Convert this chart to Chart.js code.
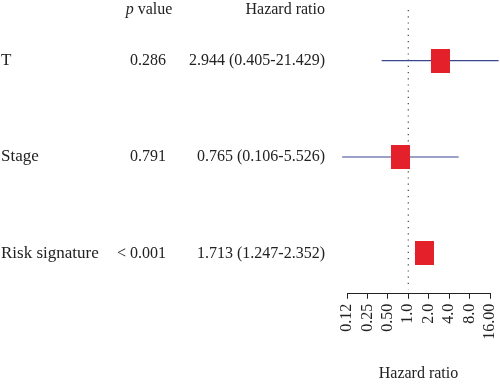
<!DOCTYPE html>
<html>
<head>
<meta charset="utf-8">
<script src="https://cdn.jsdelivr.net/npm/chart.js@4/dist/chart.umd.min.js"></script>
<style>
  body { margin: 0; background: #fff; }
  #wrap { width: 500px; height: 384px; }
</style>
</head>
<body>
<div id="wrap"><canvas id="forest" width="500" height="384"></canvas></div>
<script>
// Datos del forest plot
const rowLabels = ['T', 'Stage', 'Risk signature'];
const pValues = ['0.286', '0.791', '< 0.001'];
const hrTexts = ['2.944 (0.405-21.429)', '0.765 (0.106-5.526)', '1.713 (1.247-2.352)'];
const hr = [2.944, 0.765, 1.713];
const hrLow = [0.405, 0.106, 1.247];
const hrHigh = [21.429, 5.526, 2.352];
const tickValues = [0.125, 0.25, 0.5, 1, 2, 4, 8, 16];
const tickLabels = ['0.12', '0.25', '0.50', '1.0', '2.0', '4.0', '8.0', '16.00'];

const serif = '"Liberation Serif", "DejaVu Serif", serif';
const textColor = '#222';
const rowY = rowLabels.map((_, i) => i + 1);
const yMin = 0.476, yMax = 3.418;

// Caja roja como pointStyle (rectangulo no cuadrado)
const box = document.createElement('canvas');
box.width = 19;
box.height = 24;
const bctx = box.getContext('2d');
bctx.fillStyle = '#e4212b';
bctx.fillRect(0, 0, 19, 24);

const datasets = [];

// Linea punteada en HR = 1
datasets.push({
    type: 'line',
    data: [{ x: 1, y: yMin }, { x: 1, y: 3.37 }],
    borderColor: '#444',
    borderWidth: 1.2,
    borderDash: [1.2, 5],
    pointRadius: 0,
    order: 3
});

// Intervalos de confianza
rowLabels.forEach((_, i) => {
    datasets.push({
        type: 'line',
        data: [{ x: hrLow[i], y: rowY[i] }, { x: hrHigh[i], y: rowY[i] }],
        borderColor: '#3a4790',
        borderWidth: 1.2,
        pointRadius: 0,
        clip: false,
        order: 2
    });
});

// Cajas
datasets.push({
    type: 'scatter',
    data: hr.map((v, i) => ({ x: v, y: rowY[i] })),
    pointStyle: box,
    order: 1
});

// Tabla de texto a la izquierda
const tablePlugin = {
    id: 'tabla',
    afterDraw(chart) {
        const ctx = chart.ctx;
        const y = chart.scales.y;
        const top = chart.chartArea.top;
        ctx.save();
        ctx.fillStyle = textColor;
        ctx.textBaseline = 'middle';

        // Cabeceras
        ctx.font = 'italic 16px ' + serif;
        const pw = ctx.measureText('p').width;
        ctx.font = '16px ' + serif;
        const vw = ctx.measureText(' value').width;
        const startP = 149 - (pw + vw) / 2;
        ctx.textAlign = 'left';
        ctx.font = 'italic 16px ' + serif;
        ctx.fillText('p', startP, top);
        ctx.font = '16px ' + serif;
        ctx.fillText(' value', startP + pw, top);
        ctx.textAlign = 'right';
        ctx.fillText('Hazard ratio', 325, top);

        rowLabels.forEach((lab, i) => {
            const py = y.getPixelForValue(rowY[i]);
            ctx.textAlign = 'left';
            ctx.font = '17px ' + serif;
            ctx.fillText(lab, 1, py);
            ctx.font = '16px ' + serif;
            ctx.textAlign = 'right';
            ctx.fillText(pValues[i], 166, py);
            ctx.fillText(hrTexts[i], 325, py);
        });
        ctx.restore();
    }
};

new Chart(document.getElementById('forest'), {
    data: { datasets: datasets },
    options: {
        responsive: false,
        animation: false,
        layout: { padding: { left: 347, right: 10, top: 10, bottom: 1 } },
        plugins: {
            legend: { display: false },
            tooltip: { enabled: false }
        },
        scales: {
            x: {
                type: 'logarithmic',
                min: 0.125,
                max: 16,
                afterBuildTicks: (scale) => {
                    scale.ticks = tickValues.map(v => ({ value: v }));
                },
                afterFit: (scale) => {
                    scale.paddingLeft = 0;
                    scale.paddingRight = 0;
                },
                ticks: {
                    autoSkip: false,
                    minRotation: 90,
                    maxRotation: 90,
                    padding: 5,
                    color: textColor,
                    font: { family: serif, size: 16 },
                    callback: (val, i) => tickLabels[i]
                },
                grid: {
                    drawOnChartArea: false,
                    drawTicks: true,
                    tickLength: 5,
                    color: '#222'
                },
                border: { display: true, color: '#222', width: 1 },
                title: {
                    display: true,
                    text: 'Hazard ratio',
                    color: textColor,
                    font: { family: serif, size: 16 },
                    padding: { top: 19, bottom: 0 }
                }
            },
            y: {
                type: 'linear',
                reverse: true,
                min: yMin,
                max: yMax,
                display: false
            }
        }
    },
    plugins: [tablePlugin]
});
</script>
</body>
</html>
